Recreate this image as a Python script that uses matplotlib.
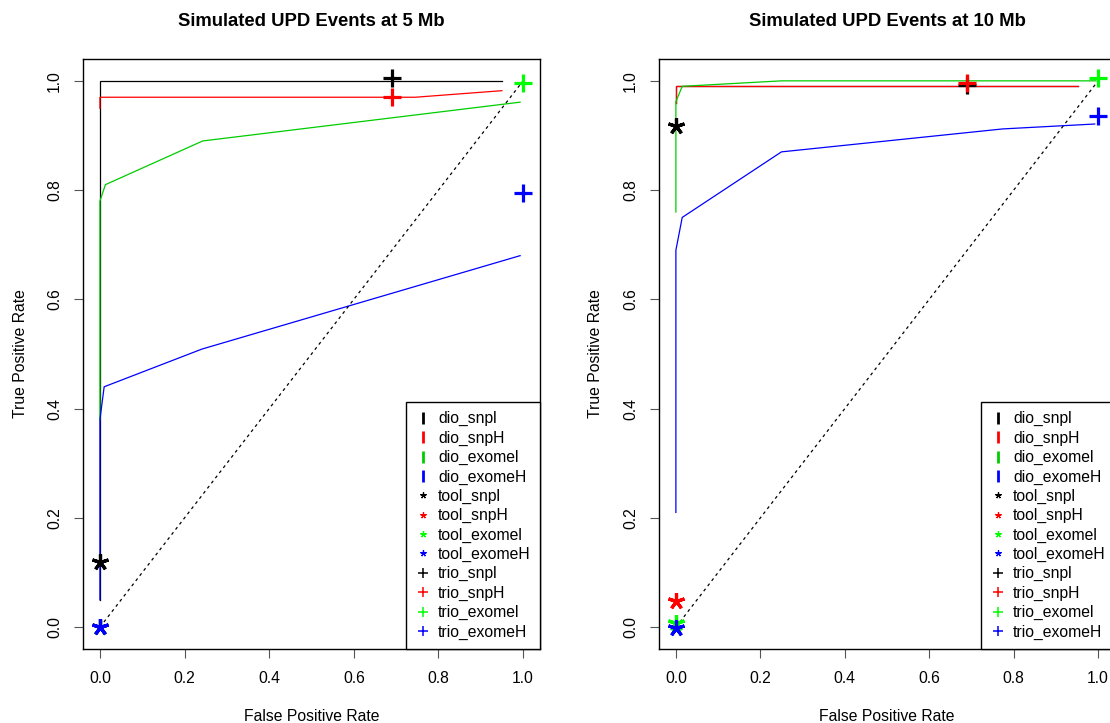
import numpy as np
import matplotlib
matplotlib.use("Agg")
import matplotlib.pyplot as plt
from matplotlib.lines import Line2D

plt.rcParams['font.family'] = ['Liberation Sans', 'DejaVu Sans']

# series names / colours
groups = ["snpl", "snpH", "exomel", "exomeH"]
dio_cols = ["black", "red", "#00CD00", "blue"]
pt_cols = ["black", "red", "#00FF00", "blue"]

# 5 Mb panel: dio ROC curves (fpr, tpr)
fpr5 = [[0, 0, 0.95],
        [0, 0, 0.745, 0.95],
        [0, 0, 0.013, 0.243, 0.993],
        [0, 0, 0.01, 0.241, 0.993]]
tpr5 = [[0.05, 1.0, 1.0],
        [0.95, 0.97, 0.97, 0.982],
        [0.38, 0.78, 0.81, 0.89, 0.961],
        [0.05, 0.38, 0.44, 0.509, 0.68]]
tool5_fpr = [0, 0, 0, 0]
tool5_tpr = [0.12, 0.0, 0.0, 0.0]
trio5_fpr = [0.691, 0.691, 1.0, 1.0]
trio5_tpr = [1.006, 0.97, 0.996, 0.795]

# 10 Mb panel
fpr10 = [[0, 0, 0.952],
         [0, 0, 0.952],
         [0, 0, 0.015, 0.25, 0.995],
         [0, 0, 0.015, 0.25, 0.774, 0.992]]
tpr10 = [[0.96, 0.991, 0.991],
         [0.96, 0.991, 0.991],
         [0.76, 0.962, 0.99, 1.0, 1.0],
         [0.21, 0.69, 0.75, 0.87, 0.912, 0.921]]
tool10_fpr = [0, 0, 0, 0]
tool10_tpr = [0.918, 0.048, 0.008, -0.002]
trio10_fpr = [0.69, 0.69, 1.0, 1.0]
trio10_tpr = [0.993, 0.996, 1.006, 0.936]

diag = [0, 1]
ticks = [0.0, 0.2, 0.4, 0.6, 0.8, 1.0]

fig = plt.figure(figsize=(11.10, 7.23), dpi=100)
ax1 = fig.add_axes([83 / 1110, 74 / 723, 457 / 1110, 590 / 723])
ax2 = fig.add_axes([659 / 1110, 74 / 723, 456 / 1110, 590 / 723])

star = (5, 2, 0)


def draw_panel(ax, fprs, tprs, tfpr, ttpr, rfpr, rtpr, title):
    for f, t, c in zip(fprs, tprs, dio_cols):
        ax.plot(f, t, color=c, lw=0.9, solid_joinstyle='miter')
    ax.plot(diag, diag, color='black', lw=0.9, ls=(0, (2.4, 2.8)))
    for x, y, c in zip(tfpr, ttpr, pt_cols):
        ax.plot(x, y, ls='none', marker=star, ms=12, mew=2.3, color=c)
    for x, y, c in zip(rfpr, rtpr, pt_cols):
        ax.plot(x, y, ls='none', marker='+', ms=12.5, mew=2.3, color=c)

    ax.set_xlim(-0.04, 1.04)
    ax.set_ylim(-0.04, 1.04)
    ax.set_xticks(ticks)
    ax.set_yticks(ticks)
    ax.set_xticklabels([f"{v:.1f}" for v in ticks])
    ax.set_yticklabels([f"{v:.1f}" for v in ticks], rotation=90, va='center')
    ax.tick_params(direction='out', length=6.5, width=0.8, labelsize=11.3,
                   colors='#555555', labelcolor='black')
    ax.tick_params(axis='x', pad=9)
    ax.tick_params(axis='y', pad=8.5)
    for s in ax.spines.values():
        s.set_linewidth(1.0)
        s.set_color('black')
    ax.set_title(title, fontsize=13.3, fontweight='bold', pad=24)
    ax.set_xlabel("False Positive Rate", fontsize=11.3)
    ax.set_ylabel("True Positive Rate", fontsize=11.3)
    ax.xaxis.set_label_coords(0.5, -0.102)

    handles, labels = [], []
    for g, c in zip(groups, dio_cols):
        handles.append(Line2D([], [], ls='none', marker='|', ms=8, mew=2, color=c))
        labels.append("dio_" + g)
    for g, c in zip(groups, pt_cols):
        handles.append(Line2D([], [], ls='none', marker=star, ms=4.5, mew=0.9, color=c))
        labels.append("tool_" + g)
    for g, c in zip(groups, pt_cols):
        handles.append(Line2D([], [], ls='none', marker='+', ms=7, mew=1.1, color=c))
        labels.append("trio_" + g)
    leg = ax.legend(handles, labels, loc='lower right', borderaxespad=0,
                    fontsize=11.3, frameon=True, fancybox=False, framealpha=1,
                    edgecolor='black', borderpad=0.6, labelspacing=0.27,
                    handlelength=1.0, handletextpad=0.45)
    leg.get_frame().set_linewidth(1.0)


draw_panel(ax1, fpr5, tpr5, tool5_fpr, tool5_tpr, trio5_fpr, trio5_tpr,
           "Simulated UPD Events at 5 Mb")
draw_panel(ax2, fpr10, tpr10, tool10_fpr, tool10_tpr, trio10_fpr, trio10_tpr,
           "Simulated UPD Events at 10 Mb")
ax1.yaxis.set_label_coords(-0.121, 0.5)
ax2.yaxis.set_label_coords(-0.123, 0.5)

fig.savefig("out.png", dpi=100)
